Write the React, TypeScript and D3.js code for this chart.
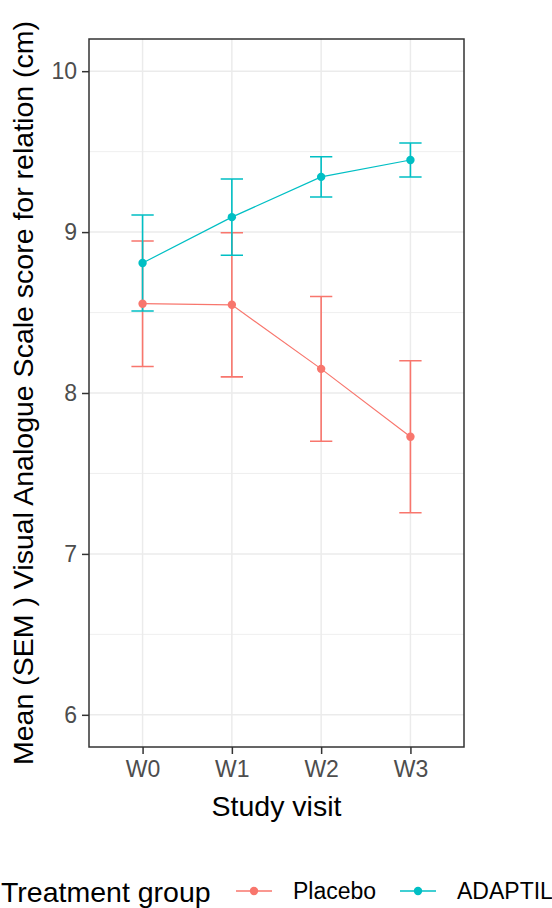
import { useEffect, useRef } from "react";
import * as d3 from "d3";

const visits = ["W0", "W1", "W2", "W3"];
const placeboMean = [8.555, 8.548, 8.15, 7.728];
const placeboSem = [0.39, 0.448, 0.45, 0.472];
const adaptilMean = [8.808, 9.093, 9.343, 9.448];
const adaptilSem = [0.298, 0.237, 0.125, 0.106];
const yTicks = [6, 7, 8, 9, 10];
const yMinor = [6.5, 7.5, 8.5, 9.5];

const groups = [
  { name: "Placebo", color: "#F8766D", mean: placeboMean, sem: placeboSem },
  { name: "ADAPTIL", color: "#00BFC4", mean: adaptilMean, sem: adaptilSem },
];

const W = 552;
const H = 908;
const FONT = "'Liberation Sans', Arial, sans-serif";

function Chart() {
  const svgRef = useRef<SVGSVGElement | null>(null);

  useEffect(() => {
    const el = svgRef.current;
    if (!el) return;
    const svg = d3.select(el);
    svg.selectAll("*").remove();

    const panel = { left: 89, right: 464, top: 39, bottom: 747 };

    const x = d3
      .scalePoint<string>()
      .domain(visits)
      .range([panel.left, panel.right])
      .padding(0.6);

    const y = d3.scaleLinear().domain([5.8, 10.2]).range([panel.bottom, panel.top]);

    svg
      .append("rect")
      .attr("width", W)
      .attr("height", H)
      .attr("fill", "#fff");

    // grid
    const grid = svg.append("g");
    grid
      .selectAll(".minor")
      .data(yMinor)
      .enter()
      .append("line")
      .attr("x1", panel.left)
      .attr("x2", panel.right)
      .attr("y1", (d) => y(d))
      .attr("y2", (d) => y(d))
      .attr("stroke", "#EBEBEB")
      .attr("stroke-width", 0.8);
    grid
      .selectAll(".major")
      .data(yTicks)
      .enter()
      .append("line")
      .attr("x1", panel.left)
      .attr("x2", panel.right)
      .attr("y1", (d) => y(d))
      .attr("y2", (d) => y(d))
      .attr("stroke", "#EBEBEB")
      .attr("stroke-width", 1.5);
    grid
      .selectAll(".vmajor")
      .data(visits)
      .enter()
      .append("line")
      .attr("x1", (d) => x(d)!)
      .attr("x2", (d) => x(d)!)
      .attr("y1", panel.top)
      .attr("y2", panel.bottom)
      .attr("stroke", "#EBEBEB")
      .attr("stroke-width", 1.5);

    const capHalf = x.step() * 0.125;

    // lines
    groups.forEach((g) => {
      const line = d3
        .line<number>()
        .x((_, i) => x(visits[i])!)
        .y((d) => y(d));
      svg
        .append("path")
        .attr("d", line(g.mean))
        .attr("fill", "none")
        .attr("stroke", g.color)
        .attr("stroke-width", 1.2);
    });

    // error bars
    groups.forEach((g) => {
      const eb = svg.append("g").attr("stroke", g.color).attr("stroke-width", 1.6).attr("fill", "none");
      g.mean.forEach((m, i) => {
        const cx = x(visits[i])!;
        const hi = y(m + g.sem[i]);
        const lo = y(m - g.sem[i]);
        eb.append("path").attr(
          "d",
          `M${cx - capHalf},${hi}H${cx + capHalf}M${cx},${hi}V${lo}M${cx - capHalf},${lo}H${cx + capHalf}`
        );
      });
    });

    // points
    groups.forEach((g) => {
      svg
        .append("g")
        .selectAll("circle")
        .data(g.mean)
        .enter()
        .append("circle")
        .attr("cx", (_, i) => x(visits[i])!)
        .attr("cy", (d) => y(d))
        .attr("r", 4.2)
        .attr("fill", g.color);
    });

    // panel border
    svg
      .append("rect")
      .attr("x", panel.left)
      .attr("y", panel.top)
      .attr("width", panel.right - panel.left)
      .attr("height", panel.bottom - panel.top)
      .attr("fill", "none")
      .attr("stroke", "#333333")
      .attr("stroke-width", 1.5);

    // y axis
    const yAxis = svg
      .append("g")
      .attr("transform", `translate(${panel.left},0)`)
      .call(d3.axisLeft(y).tickValues(yTicks).tickSize(7).tickPadding(5).tickFormat(d3.format("d")));
    yAxis.select(".domain").remove();
    yAxis.selectAll(".tick line").attr("stroke", "#333333").attr("stroke-width", 1.5);
    yAxis
      .selectAll(".tick text")
      .attr("fill", "#4D4D4D")
      .style("font-family", FONT)
      .style("font-size", "23px");

    // x axis
    const xAxis = svg
      .append("g")
      .attr("transform", `translate(0,${panel.bottom})`)
      .call(d3.axisBottom(x).tickSize(7).tickPadding(7));
    xAxis.select(".domain").remove();
    xAxis.selectAll(".tick line").attr("stroke", "#333333").attr("stroke-width", 1.5);
    xAxis
      .selectAll(".tick text")
      .attr("fill", "#4D4D4D")
      .style("font-family", FONT)
      .style("font-size", "23px");

    // axis titles
    svg
      .append("text")
      .attr("x", (panel.left + panel.right) / 2)
      .attr("y", 816)
      .attr("text-anchor", "middle")
      .style("font-family", FONT)
      .style("font-size", "28.5px")
      .attr("fill", "#000")
      .text("Study visit");

    svg
      .append("text")
      .attr("transform", `translate(33,${(panel.top + panel.bottom) / 2}) rotate(-90)`)
      .attr("text-anchor", "middle")
      .style("font-family", FONT)
      .style("font-size", "28.5px")
      .attr("fill", "#000")
      .text("Mean (SEM ) Visual Analogue Scale score for relation (cm)");

    // legend
    const legY = 891;
    svg
      .append("text")
      .attr("x", 1)
      .attr("y", 902)
      .style("font-family", FONT)
      .style("font-size", "28.5px")
      .attr("fill", "#000")
      .text("Treatment group");

    const keyX = [236, 400];
    const labelX = [293, 457];
    groups.forEach((g, i) => {
      const k = svg.append("g");
      k.append("line")
        .attr("x1", keyX[i])
        .attr("x2", keyX[i] + 36)
        .attr("y1", legY)
        .attr("y2", legY)
        .attr("stroke", g.color)
        .attr("stroke-width", 1.6);
      k.append("circle")
        .attr("cx", keyX[i] + 18)
        .attr("cy", legY)
        .attr("r", 4.2)
        .attr("fill", g.color);
      k.append("text")
        .attr("x", labelX[i])
        .attr("y", legY + 8)
        .style("font-family", FONT)
        .style("font-size", "23px")
        .attr("fill", "#000")
        .text(g.name);
    });
  }, []);

  return <svg ref={svgRef} width={W} height={H} style={{ display: "block" }} role="img" aria-label="Line chart" />;
}

export default function App() {
  return (
    <div style={{ position: "absolute", left: 0, top: 0 }}>
      <Chart />
    </div>
  );
}
